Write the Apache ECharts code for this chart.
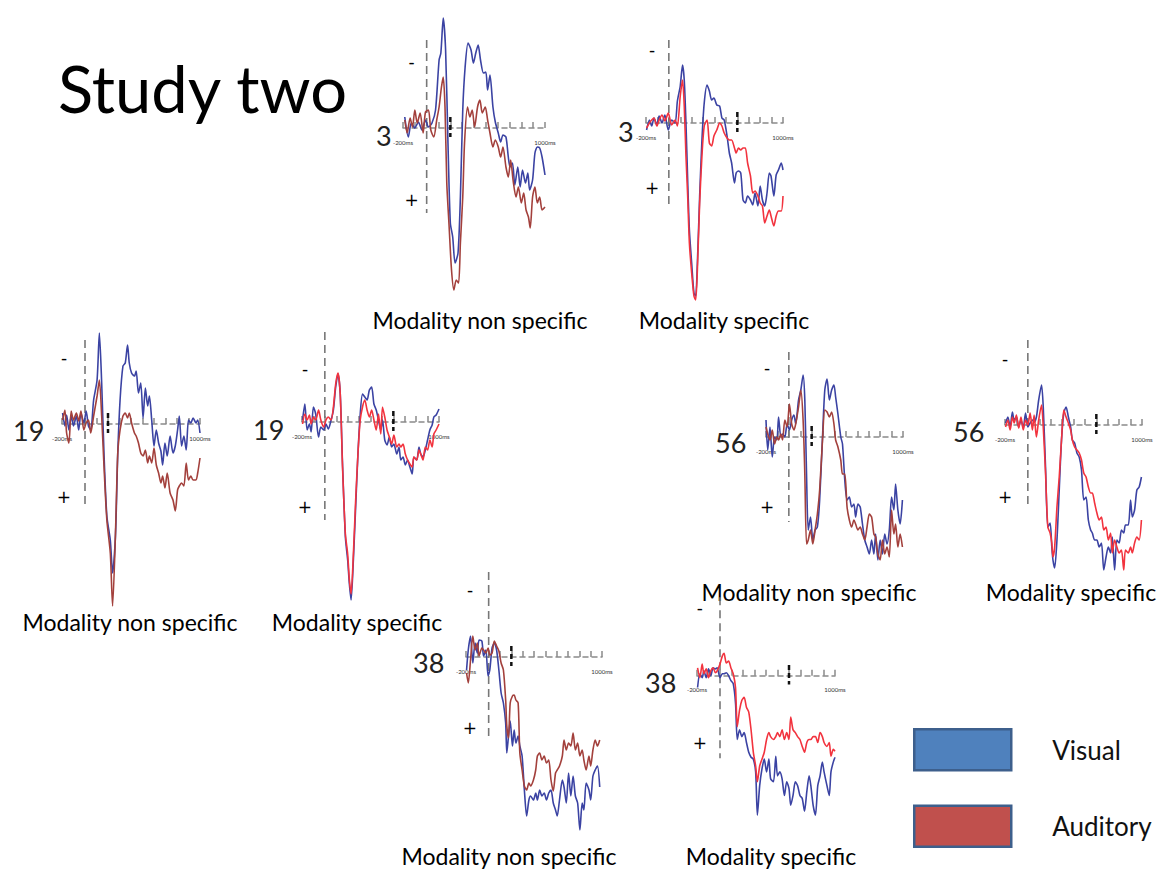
<!DOCTYPE html>
<html><head><meta charset="utf-8">
<script src="https://cdn.jsdelivr.net/npm/echarts@6/dist/echarts.min.js"></script>
<style>html,body{margin:0;padding:0;background:#fff}#chart{width:1162px;height:872px}</style>
</head><body><div id="chart"></div>
<script>
// ---------- data ----------
const chartTitle = 'Study two';
const legendNames = ['Visual', 'Auditory'];
const electrodes = ['3', '3', '19', '19', '56', '56', '38', '38'];
const conditions = ['Modality non specific', 'Modality specific', 'Modality non specific', 'Modality specific',
                    'Modality non specific', 'Modality specific', 'Modality non specific', 'Modality specific'];
const timeTicks = [-200, 1000];
const timeTickLabels = ['-200ms', '1000ms'];
const signTexts = ['-', '+'];
const boldTickTimes = [200, 600, 200, 600, 200, 600, 200, 600];
const signTimes = [-128, -147, -183, -174, -191, -200, -165, -175];
const signLevels = [[-6.6, 7.2], [-7.3, 6.5], [-6.6, 7.3], [-5.3, 8.5], [-6.9, 7.0], [-6.6, 7.2], [-6.7, 7.1], [-6.9, 6.9]];
const onsetExtent = [[-8.8, 8.5], [-8.3, 8.4], [-8.4, 8.4], [-9, 9.8], [-8.5, 8.5], [-8.5, 8.3], [-8.5, 8.3], [-8, 8.4]];

const p1Visual = [[-185,-1.1],[-155,0.9],[-130,-0.5],[-100,0],[-70,-0.6],[-40,0.2],[-10,-0.8],[15,-0.1],[45,-0.5],[75,-1.8],[105,-6.8],[120,-7.5],[140,-11],[160,-7.8],[180,1.5],[200,9.5],[220,10.9],[240,13.5],[265,12.5],[285,6.9],[305,-1.8],[325,-6.1],[350,-8.5],[375,-7.8],[395,-6.5],[415,-7.5],[435,-8.3],[455,-6.8],[480,-5.5],[500,-5.6],[515,-3.8],[535,-5.3],[560,-2.1],[580,-0.6],[605,0.5],[625,1.4],[645,0.7],[670,0.9],[690,2.9],[705,3.9],[725,3.5],[745,5.7],[770,3.9],[790,5.9],[810,4.2],[835,5.5],[855,4.5],[870,6.2],[895,5.2],[915,2.5],[935,1.9],[955,2.0],[975,2.9],[1000,4.7]];
const p1Auditory = [[-185,-0.8],[-165,0.5],[-140,-1],[-120,-0.1],[-100,-1.8],[-80,-0.5],[-55,-1.5],[-30,0.5],[-10,-1.6],[15,-1.8],[35,0.2],[60,0.9],[85,-0.8],[105,-2.1],[125,-4.1],[140,-5.1],[155,-2.1],[170,5.5],[190,9.9],[210,14.2],[230,16.2],[250,15.2],[270,15.5],[285,11.5],[305,6.9],[320,1.5],[345,-2.1],[365,-1.1],[385,-1.8],[405,-0.1],[430,-2.1],[450,-2.8],[470,-1.5],[495,-2.1],[515,-0.8],[535,0.5],[560,1.9],[580,1.2],[605,1.9],[625,2.9],[645,1.9],[670,3.9],[690,4.9],[710,3.2],[730,5.2],[755,6.9],[775,5.9],[800,7.5],[820,6.5],[840,8.2],[860,8.9],[875,10],[895,6.9],[915,5.9],[935,7.5],[955,6.9],[975,8.2],[1000,7.9]];
const p2Visual = [[-195,0.7],[-170,-0.3],[-150,0.3],[-130,-0.5],[-105,0.2],[-85,-0.7],[-60,0],[-35,-0.8],[-5,0.7],[25,-0.3],[55,0],[75,-2.2],[100,-3.7],[120,-5.8],[135,-4.3],[150,0],[165,5.7],[180,10.7],[200,14],[220,17],[235,17.3],[250,14],[270,7.3],[290,1.7],[310,-2],[335,-3.8],[355,-3.2],[375,-2.3],[395,-2.5],[420,-1.8],[445,-1.7],[465,-0.5],[485,-0.3],[510,1.3],[530,3],[550,4],[575,6],[590,5],[610,4.8],[630,5],[650,7.7],[670,8],[690,7.3],[715,7.7],[735,8.2],[755,7],[780,8.3],[800,6.3],[820,7.7],[840,8.3],[860,7],[880,5],[895,5.3],[920,7.3],[940,5.2],[960,4.7],[985,4],[1000,4.7]];
const p2Auditory = [[-195,0.5],[-170,0],[-150,-0.3],[-130,-0.5],[-105,0.3],[-85,-0.3],[-60,-0.8],[-35,-0.2],[-5,-1],[25,0.2],[55,-0.3],[75,0.3],[100,-2.7],[120,-4.3],[135,-1.7],[150,3.3],[165,7.3],[180,12],[200,15],[220,17.3],[235,17.7],[250,14.7],[270,8],[290,3.3],[310,0.3],[335,-0.3],[355,2],[375,2.3],[395,1.3],[420,0.7],[445,0],[465,0.3],[485,1],[510,1.5],[530,1.7],[550,1.7],[575,2.5],[590,3],[610,2.5],[630,2.7],[650,2.5],[670,2.5],[690,4],[715,5.3],[735,7],[755,6.8],[780,7.3],[800,8],[820,8.3],[840,10],[860,9.3],[880,8.7],[895,9.3],[920,10.3],[940,9.3],[960,8.8],[985,8.8],[1000,7.3]];
const p3Visual = [[-195,-1.1],[-175,0.2],[-160,-0.9],[-140,0.6],[-120,-0.8],[-100,0.2],[-75,-0.8],[-55,0.6],[-35,-1.1],[-10,-0.1],[10,-1.3],[30,0.2],[50,0.6],[75,-2.4],[105,-4.4],[125,-9.1],[145,-4.1],[165,2.9],[190,9.2],[220,11.6],[240,14.9],[265,11.2],[285,2.9],[305,-2.4],[330,-5.8],[350,-6.1],[370,-7.9],[385,-6.1],[405,-5.1],[430,-4.8],[445,-5.3],[465,-3.1],[485,-4.1],[505,-0.6],[525,-3.6],[545,-1.8],[560,-2.8],[580,-0.4],[600,2.2],[620,0.6],[640,1.9],[660,2.7],[675,4.1],[695,1.9],[715,3.2],[740,1.2],[765,2.9],[785,2.2],[805,0.6],[820,-0.8],[840,2.2],[860,1.2],[880,2.6],[900,-0.4],[920,-0.1],[940,-0.6],[965,-0.1],[980,-0.4],[1000,0.9]];
const p3Auditory = [[-195,-0.4],[-175,-1.4],[-160,0.9],[-140,1.9],[-120,-1.3],[-100,-0.4],[-75,-1.1],[-55,-0.3],[-35,-1.3],[-10,0.6],[10,-0.1],[30,-0.4],[50,0.9],[75,-0.8],[105,-2.8],[125,-4.4],[145,-0.8],[165,4.2],[190,9.6],[220,12.9],[240,18.2],[265,10.9],[285,2.9],[305,0.6],[330,-0.8],[350,-1.1],[370,-0.6],[385,-1.1],[405,-0.1],[430,0.9],[445,1.2],[465,1.9],[485,2.9],[505,3.2],[525,2.6],[545,3.9],[560,3.2],[580,3.9],[600,2.4],[620,4.1],[640,4.9],[660,5.9],[675,5.2],[695,6.4],[715,4.9],[740,6.9],[765,7.6],[785,8.7],[805,6.6],[820,6.2],[840,5.9],[860,6.2],[880,3.9],[900,5.6],[920,5.2],[940,5.6],[965,5.6],[980,4.9],[1000,3.4]];
const p4Visual = [[-195,-0.2],[-175,-1.8],[-155,0.8],[-135,0.2],[-120,1],[-100,-1.5],[-80,-0.8],[-55,1.5],[-35,0.5],[-10,0.8],[10,0.2],[30,0.7],[55,-0.2],[75,-1.2],[95,-3.5],[115,-4.8],[135,-2.8],[155,4.2],[180,11.5],[200,13.8],[215,16.2],[230,17.8],[250,13.8],[270,8.5],[290,3.2],[310,-0.8],[330,-2.8],[350,-2.5],[370,-2.2],[390,-3.2],[410,-3.5],[430,-1.8],[450,-1.2],[470,-0.2],[490,0.8],[505,-0.2],[525,1.8],[545,2.3],[565,1.5],[585,2.5],[605,2.2],[630,3.2],[650,2.5],[665,3.8],[685,3.5],[705,4.3],[725,3.8],[745,4.5],[765,5.2],[780,3.5],[805,3.8],[825,2.5],[840,3.2],[860,3.5],[880,2.8],[900,1.8],[920,0.8],[940,0.3],[955,-0.5],[975,-0.7],[1000,-1.3]];
const p4Auditory = [[-195,0.2],[-175,-0.8],[-155,-0.2],[-135,-0.7],[-120,0.2],[-100,-0.5],[-80,-0.2],[-55,-1.2],[-35,-0.2],[-10,0.5],[10,-0.2],[30,-0.5],[55,-0.2],[75,-1.5],[95,-3.8],[115,-4.9],[135,-2.8],[155,4.5],[180,11.2],[200,13.2],[215,15.8],[230,17.2],[250,13.2],[270,7.8],[290,3.2],[310,-0.2],[330,-1.5],[350,-2.2],[370,-1.2],[390,-0.5],[410,-1.2],[430,-0.2],[450,0.8],[470,-0.8],[490,1.2],[505,-1.5],[525,-0.5],[545,0.8],[565,1.5],[585,2.2],[605,1.3],[630,2.5],[650,2.2],[665,2.5],[685,2.2],[705,3.2],[725,3.8],[745,4.2],[765,4.5],[780,3.5],[805,3.8],[825,2.8],[840,3.2],[860,3.8],[880,2.5],[900,2.8],[920,1.8],[940,2.5],[955,1.2],[975,0.8],[1000,0.2]];
const p5Visual = [[-200,-1.7],[-185,1.3],[-165,-1],[-145,2],[-125,0],[-105,0.3],[-90,-2],[-70,0],[-55,-0.3],[-35,0],[-15,-1.3],[5,-0.7],[25,-1.7],[45,-2.2],[60,-1.3],[85,-3.7],[105,-4.7],[125,-6.2],[140,-3.7],[155,3.7],[170,9.3],[190,8],[210,10.3],[230,9.3],[250,9],[270,6.3],[295,0],[315,-4.7],[335,-5.8],[355,-3.7],[375,-4.7],[395,-5.2],[410,-4],[430,-2.3],[455,0],[470,0.7],[490,4.3],[510,6.3],[530,6],[550,7],[570,6.7],[585,8],[605,6.7],[625,7],[645,8.7],[665,10.3],[685,11],[705,11.7],[725,10.3],[745,11.7],[760,9.7],[780,12.3],[800,10.3],[820,11.7],[840,9.7],[860,10.7],[880,9.3],[900,6],[920,7.3],[935,4.7],[955,7.3],[975,8.7],[995,6.3]];
const p5Auditory = [[-200,-1],[-185,-0.3],[-165,0.3],[-145,-0.7],[-125,0.7],[-105,0],[-90,0.3],[-70,-0.3],[-55,0.3],[-35,-1.7],[-15,-1],[5,-3.3],[25,-1.3],[45,-0.7],[60,-1.3],[85,-3],[105,-4.7],[125,-1.7],[140,3.7],[155,10.7],[170,10.3],[190,9.3],[210,10.7],[230,9.3],[250,7.7],[270,5.3],[295,0.3],[315,-2.7],[335,-2.5],[355,-2],[375,-2.5],[395,-1.3],[410,0.3],[430,1],[455,2.3],[470,3.7],[490,3.7],[510,7],[530,8.3],[550,9],[570,8.3],[585,8.7],[605,9.3],[625,9],[645,9.7],[665,10.3],[685,9],[705,7.7],[725,8],[745,9.7],[760,10],[780,11.7],[800,12.3],[820,10.3],[840,11.7],[860,11],[880,12],[900,7.3],[920,9.7],[935,8.7],[955,11],[975,9.7],[995,11]];
const p6Visual = [[-195,-0.2],[-175,-0.8],[-155,0.2],[-135,-1.3],[-120,-0.5],[-100,-0.8],[-80,0.2],[-60,-0.5],[-40,0.3],[-20,-1.2],[0,0.2],[20,-0.2],[40,-0.5],[55,-0.3],[75,-0.8],[95,-2.5],[120,-4],[135,-1.8],[155,4.2],[175,10.2],[195,9.8],[210,12.2],[220,13.5],[235,14.3],[255,11.5],[275,6.5],[295,1.5],[315,-1.2],[335,-1.8],[355,-0.8],[375,0.2],[390,1.5],[410,1.8],[430,2.8],[450,3.2],[470,4.5],[490,7.5],[510,7.2],[530,9.5],[550,10.5],[565,10.8],[585,11.5],[605,11.5],[625,12.2],[645,11.8],[665,14.5],[685,13.2],[705,12.2],[725,12.8],[740,11.2],[760,14.5],[780,11.5],[800,11.8],[820,10.5],[840,10.8],[855,10],[880,10],[900,7.5],[915,9.2],[935,8.5],[955,6.5],[975,6.2],[995,5.2]];
const p6Auditory = [[-195,0.2],[-175,-0.5],[-155,0.5],[-135,-0.8],[-120,-0.2],[-100,-1],[-80,0.3],[-60,-0.8],[-40,0.5],[-20,-0.5],[0,0],[20,-1.2],[40,0.5],[55,-1],[75,1.2],[95,-0.5],[120,-2],[135,0.2],[155,4.8],[175,10.2],[195,10.8],[210,11.8],[220,13.2],[235,12.2],[255,8.2],[275,5.2],[295,1.5],[315,-1.5],[335,-0.8],[355,-0.2],[375,0.5],[390,1.5],[410,2.2],[430,2.5],[450,2.8],[470,3.5],[490,4.8],[510,5.2],[530,6.2],[550,6.8],[565,6.8],[585,7.8],[605,8.8],[625,9.5],[645,9.2],[665,10.5],[685,10.2],[705,11.5],[725,10.8],[740,12.8],[760,11.5],[780,12.2],[800,12.8],[820,12.5],[840,14.5],[855,12.5],[880,12.8],[900,12.2],[915,12.8],[935,11.8],[955,11.2],[975,11.5],[995,9.5]];
const p7Visual = [[-195,1.3],[-180,-0.7],[-160,-2.1],[-140,0.6],[-120,-1.4],[-100,-0.4],[-85,-1.7],[-60,-1.6],[-45,-0.1],[-25,-0.7],[-5,1.9],[10,1.3],[30,-0.9],[50,-1.4],[70,-0.7],[90,1.3],[110,3.6],[130,4.6],[150,6.6],[160,9.6],[175,7.9],[190,6.4],[210,8.9],[225,7.3],[240,8.6],[260,7.9],[275,8.9],[295,9.9],[315,13.3],[335,15.9],[355,14.3],[370,13.9],[395,14.3],[415,13.6],[430,14.3],[450,13.3],[470,13.9],[490,13.6],[510,14.3],[530,13.6],[550,13.3],[570,14.6],[590,15.3],[605,15.9],[625,14.3],[650,12.3],[665,13],[685,14.6],[705,11.6],[725,13.9],[745,11.9],[765,13.9],[785,14.6],[805,17.3],[825,14.6],[840,15.3],[860,12.6],[885,13.3],[900,14.3],[920,11.9],[940,11.3],[960,10.9],[980,13]];
const p7Auditory = [[-195,1.6],[-180,2.6],[-160,0.3],[-140,-2.1],[-120,-0.7],[-100,-1.4],[-85,-0.1],[-60,-0.9],[-45,-0.7],[-25,-0.4],[-5,-0.9],[10,-0.2],[30,-0.4],[50,-1.6],[70,-1.1],[90,-0.6],[110,0.6],[130,1.3],[150,4.3],[160,6.9],[175,8.1],[190,4.6],[210,3.9],[225,3.8],[240,4.3],[260,4.6],[275,9.6],[295,11.3],[315,12.9],[335,13.3],[355,12.6],[370,12.9],[395,12.3],[415,11.3],[430,9.9],[450,9.6],[470,10.3],[490,9.9],[510,10.6],[530,10.3],[550,12.3],[570,13.4],[590,11.6],[605,11.3],[625,10.9],[650,9.9],[665,8.3],[685,9.3],[705,8.6],[725,8.9],[745,7.6],[765,9.3],[785,8.6],[805,9.9],[825,9.3],[840,10.3],[860,11.3],[885,9.9],[900,10.9],[920,9.3],[940,8.3],[960,8.9],[980,8.3]];
const p8Visual = [[-195,1.2],[-175,-0.2],[-155,0.2],[-140,-0.5],[-120,0.2],[-100,-0.7],[-80,0],[-60,-0.8],[-40,-0.7],[-25,-0.8],[0,0.2],[20,-0.2],[35,-0.2],[55,-0.3],[75,0],[95,0.5],[115,0.8],[135,2.8],[150,6.5],[170,5.5],[190,6.2],[210,5.8],[230,6.8],[250,7.8],[270,8.3],[290,8.5],[310,9.8],[325,14.2],[345,11.2],[365,9.5],[385,8.5],[405,9.8],[425,8.5],[440,10.5],[465,10.8],[485,8.2],[500,10.2],[520,9.8],[540,10.5],[560,12.2],[580,10.8],[600,11.5],[615,13.2],[635,12.2],[655,10.8],[675,11.2],[695,12.2],[715,12.5],[735,13.8],[755,11.8],[775,10.2],[790,11.2],[810,13.2],[830,14.2],[850,11.2],[870,10.2],[890,8.8],[905,9.8],[930,11.2],[950,12.2],[965,9.8],[985,8.8],[1000,8.3]];
const p8Auditory = [[-195,-0.8],[-175,0.2],[-155,-1.2],[-140,-0.2],[-120,-0.7],[-100,0.2],[-80,-0.5],[-60,-0.8],[-40,-0.3],[-25,-0.5],[0,-1.2],[20,-2],[35,-2.3],[55,-1.3],[75,-1.5],[95,-0.8],[115,-0.2],[135,1.2],[150,5.2],[170,3.5],[190,2.5],[210,2.2],[230,3.2],[250,3.7],[270,5.5],[290,7.8],[310,9.2],[325,10.8],[345,9.2],[365,8.5],[385,7.8],[405,6.5],[425,5.8],[440,6.2],[465,6.5],[485,6.2],[500,5.8],[520,6.2],[540,5.5],[560,6.5],[580,5.8],[600,6.5],[615,4.2],[635,5.5],[655,5.8],[675,6.2],[695,6.5],[715,7.2],[735,7.8],[755,6.8],[775,6.5],[790,6.5],[810,6.2],[830,6.2],[850,6.8],[870,5.8],[890,6.2],[905,6.8],[930,7.2],[950,6.8],[965,8.2],[985,7.5],[1000,7.7]];

// ---------- layout & style ----------
const visualSeries = [p1Visual, p2Visual, p3Visual, p4Visual, p5Visual, p6Visual, p7Visual, p8Visual];
const auditorySeries = [p1Auditory, p2Auditory, p3Auditory, p4Auditory, p5Auditory, p6Auditory, p7Auditory, p8Auditory];
const BLUE = '#3b43a3', BROWN = '#a3403c', RED = '#f2333e', AXIS = '#8a8a8a';
const FONT = 'Lato';
const PX = 10, YMIN = -12, YMAX = 20;
const LABEL_LEVEL = 1.4;
const boxes = [
  { l: 403, r: 545, y: 128, lab: [376, 135], cap: [480, 320] },
  { l: 646, r: 783, y: 123, lab: [618, 131], cap: [724, 320] },
  { l: 62,  r: 200, y: 424, lab: [13, 430],  cap: [130, 622] },
  { l: 302, r: 439, y: 422, lab: [253, 429], cap: [357, 622] },
  { l: 766, r: 903, y: 437, lab: [715, 442], cap: [809, 592] },
  { l: 1005,r: 1142,y: 425, lab: [953, 431], cap: [1071, 592] },
  { l: 466, r: 602, y: 657, lab: [413, 662], cap: [509, 856] },
  { l: 697, r: 835, y: 678, lab: [645, 682], cap: [771, 856] }
];

const grid = [], xAxis = [], yAxis = [], series = [], graphic = [];
boxes.forEach((b, i) => {
  grid.push({ left: b.l, top: b.y + YMIN * PX, width: b.r - b.l, height: (YMAX - YMIN) * PX, containLabel: false });
  xAxis.push({
    gridIndex: i, type: 'value', min: -200, max: 1000, interval: 100,
    axisLine: { onZero: true, lineStyle: { type: [5, 4], color: AXIS, width: 1.5 } },
    axisTick: { inside: true, length: 6, lineStyle: { color: AXIS, width: 1.5 } },
    axisLabel: { show: false },
    splitLine: { show: false }
  });
  yAxis.push({ gridIndex: i, type: 'value', inverse: true, min: YMIN, max: YMAX, show: false });
  const aColor = (i % 2 === 0) ? BROWN : RED;
  series.push({ name: legendNames[0], type: 'line', xAxisIndex: i, yAxisIndex: i, data: visualSeries[i],
    showSymbol: false, smooth: 0.25, color: BLUE, lineStyle: { width: 1.6, color: BLUE }, z: 3 });
  series.push({ name: legendNames[1], type: 'line', xAxisIndex: i, yAxisIndex: i, data: auditorySeries[i],
    showSymbol: false, smooth: 0.25, color: aColor, lineStyle: { width: 1.6, color: aColor }, z: 4 });
  series.push({ type: 'line', xAxisIndex: i, yAxisIndex: i, silent: true, showSymbol: false,
    data: [[0, onsetExtent[i][0]], [0, onsetExtent[i][1]]],
    lineStyle: { type: [8, 5], color: '#777', width: 1.6 }, z: 2 });
  series.push({ type: 'line', xAxisIndex: i, yAxisIndex: i, silent: true, showSymbol: false,
    data: [[boldTickTimes[i], -1.1], [boldTickTimes[i], 0.9]],
    lineStyle: { color: '#111', width: 2.5, type: [5, 3] }, z: 2 });
  graphic.push({ type: 'text', x: b.lab[0], y: b.lab[1],
    style: { text: electrodes[i], fontSize: 27, fontFamily: FONT, fill: '#222', textAlign: 'left', textVerticalAlign: 'middle' } });
  graphic.push({ type: 'text', x: b.cap[0], y: b.cap[1],
    style: { text: conditions[i], fontSize: 23, fontFamily: FONT, fill: '#000', textAlign: 'center', textVerticalAlign: 'middle' } });
});
graphic.push({ type: 'text', x: 58, y: 88,
  style: { text: chartTitle, fontSize: 65, fontFamily: FONT, fill: '#000', textAlign: 'left', textVerticalAlign: 'middle' } });

const chart = echarts.init(document.getElementById('chart'), null, { renderer: 'svg' });
const option = {
  backgroundColor: '#fff',
  animation: false,
  grid, xAxis, yAxis, series, graphic,
  legend: {
    orient: 'vertical', left: 913, top: 728, padding: 0,
    itemWidth: 97, itemHeight: 41, itemGap: 33, selectedMode: false,
    textStyle: { fontSize: 26, fontFamily: FONT, color: '#111', padding: [0, 0, 0, 36] },
    data: [
      { name: legendNames[0], icon: 'rect', itemStyle: { color: '#4f81bd', borderColor: '#3d5f8c', borderWidth: 2.5 } },
      { name: legendNames[1], icon: 'rect', itemStyle: { color: '#c0504d', borderColor: '#3d5f8c', borderWidth: 2.5 } }
    ]
  }
};
chart.setOption(option);

// place the tick labels and polarity signs through each panel's own scales
boxes.forEach((b, i) => {
  timeTicks.forEach((t, k) => {
    const p = chart.convertToPixel({ gridIndex: i }, [t, LABEL_LEVEL]);
    graphic.push({ type: 'text', x: p[0], y: p[1],
      style: { text: timeTickLabels[k], fontSize: 6, fontFamily: FONT, fill: '#333', textAlign: 'center', textVerticalAlign: 'middle' } });
  });
  signLevels[i].forEach((lv, k) => {
    const p = chart.convertToPixel({ gridIndex: i }, [signTimes[i], lv]);
    graphic.push({ type: 'text', x: p[0], y: p[1],
      style: { text: signTexts[k], fontSize: 17, fontFamily: 'DejaVu Sans', fill: '#000', textAlign: 'center', textVerticalAlign: 'middle' } });
  });
});
chart.setOption({ graphic });
</script></body></html>
